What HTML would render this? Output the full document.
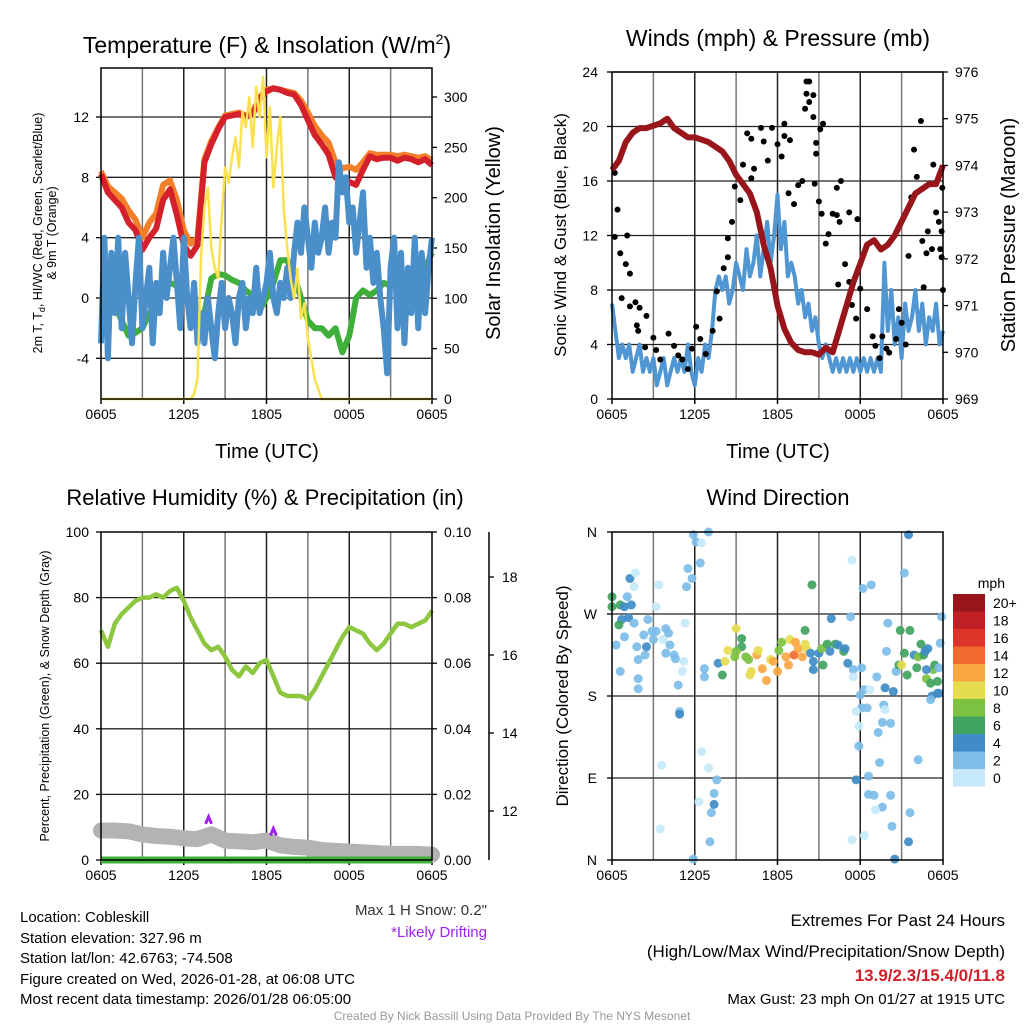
<!DOCTYPE html>
<html><head><meta charset="utf-8">
<style>
body{margin:0;background:#fff;}
svg{display:block;font-family:"Liberation Sans",Arial,sans-serif;}
</style></head>
<body>
<svg id="c" width="1024" height="1024" viewBox="0 0 1024 1024">
<rect width="1024" height="1024" fill="#fff"/>
<g id="texts">
<text x="267" y="53" font-size="23" text-anchor="middle">Temperature (F) &amp; Insolation (W/m<tspan dy="-9" font-size="14">2</tspan><tspan dy="9">)</tspan></text>
<text x="778" y="46" font-size="23" text-anchor="middle">Winds (mph) &amp; Pressure (mb)</text>
<text x="265" y="505" font-size="22" text-anchor="middle">Relative Humidity (%) &amp; Precipitation (in)</text>
<text x="778" y="505" font-size="22" text-anchor="middle">Wind Direction</text>
<g transform="translate(42,233) rotate(-90)" font-size="12.5" text-anchor="middle">
<text x="0" y="0">2m T, T<tspan font-size="9" dy="3">d</tspan><tspan dy="-3">, HI/WC (Red, Green, Scarlet/Blue)</tspan></text>
<text x="0" y="14">&amp; 9m T (Orange)</text></g>
<text transform="translate(500,233) rotate(-90)" font-size="20" text-anchor="middle">Solar Insolation (Yellow)</text>
<text x="267" y="458" font-size="20" text-anchor="middle">Time (UTC)</text>
<text x="778" y="458" font-size="20" text-anchor="middle">Time (UTC)</text>
<text transform="translate(566,235) rotate(-90)" font-size="17" text-anchor="middle">Sonic Wind &amp; Gust (Blue, Black)</text>
<text transform="translate(1015,235) rotate(-90)" font-size="20" text-anchor="middle">Station Pressure (Maroon)</text>
<text transform="translate(49,696) rotate(-90)" font-size="12.5" text-anchor="middle">Percent, Precipitation (Green), &amp; Snow Depth (Gray)</text>
<text transform="translate(568,696) rotate(-90)" font-size="17" text-anchor="middle">Direction (Colored By Speed)</text>
<text x="1005" y="588" font-size="14" text-anchor="end">mph</text>
<g font-size="15">
<text x="20" y="922">Location: Cobleskill</text>
<text x="20" y="943">Station elevation: 327.96 m</text>
<text x="20" y="963">Station lat/lon: 42.6763; -74.508</text>
<text x="20" y="984">Figure created on Wed, 2026-01-28, at 06:08 UTC</text>
<text x="20" y="1004">Most recent data timestamp: 2026/01/28 06:05:00</text>
</g>
<text x="487" y="915" font-size="15" text-anchor="end" fill="#333">Max 1 H Snow: 0.2"</text>
<text x="487" y="937" font-size="15" text-anchor="end" fill="#a020f0">*Likely Drifting</text>
<g text-anchor="end">
<text x="1005" y="926" font-size="17">Extremes For Past 24 Hours</text>
<text x="1005" y="957" font-size="17">(High/Low/Max Wind/Precipitation/Snow Depth)</text>
<text x="1005" y="981" font-size="17" font-weight="bold" fill="#d0202a">13.9/2.3/15.4/0/11.8</text>
<text x="1005" y="1004" font-size="15">Max Gust: 23 mph On 01/27 at 1915 UTC</text>
</g>
<text x="512" y="1020" font-size="12" text-anchor="middle" fill="#999">Created By Nick Bassill Using Data Provided By The NYS Mesonet</text>
</g>
</svg>
<script>
// ---------- data ----------
const timeTicks = ["0605","1205","1805","0005","0605"];
const tempTicks = [-4,0,4,8,12];
const solarTicks = [0,50,100,150,200,250,300];
const windTicks = [0,4,8,12,16,20,24];
const pressTicks = [969,970,971,972,973,974,975,976];
const rhTicks = [0,20,40,60,80,100];
const precipTicks = ["0.00","0.02","0.04","0.06","0.08","0.10"];
const snowTicks = [12,14,16,18];
const dirTicks = ["N","E","S","W","N"];
const speedBins = ["0","2","4","6","8","10","12","14","16","18","20+"];
const speedColors = ["#c6e9fa","#7dbde8","#3f8cc8","#41a360","#7dc142","#e6dc50","#f9a742","#f06a2e","#dd3328","#c12026","#98161b"];

const airTemp = [8.2,7,6.5,6,5,4.5,3.2,4,4.6,6.5,7.2,5.5,3.5,2.8,3.5,9,10.2,11.2,12,12.1,12.2,12,12.2,13.2,13.7,13.9,13.8,13.6,13.5,12.8,11.8,10.8,10.2,9.5,8,7.6,7.7,7.5,8.5,9.4,9.2,9.3,9.3,9.1,9.3,9.2,9.0,9.2,8.8];
const temp9m = [8.4,7.4,7,6.6,5.8,5.2,4,5,5.6,7.5,7.8,6.5,4.5,3.6,4,9.2,10.4,11.3,12.1,12.2,12.3,12.1,12.3,13.3,13.8,13.9,13.8,13.7,13.6,13.1,12.3,11.4,10.8,10.3,9,8.6,8.7,8.5,9,9.6,9.5,9.5,9.5,9.4,9.5,9.4,9.3,9.4,9.1];
const dewPoint = [-1.5,-1,-0.5,-1.5,-2.5,-2.3,-2,-1,-0.5,0.5,1,0.8,0.5,-0.5,-1.5,-1,1.3,1.6,1.5,1.2,1,0.5,0.2,-0.8,0,1,2.5,2.5,1.5,0,-1.5,-2,-2,-2.5,-2,-3.6,-2.5,0,0.5,0.2,0.5,1,0.8,1.2,1.5,1,2,2,3];
const windChill = [-3,4,-4,3,-1,4,-2,3,0,-3,1,4,-2,0,2,-3,1,-1,3,0,2,4,1,-2,4,0,-2,1,-3,-1,-3,0,-2,-4,-1,1,-2,0,-1,-3,0,1,-2,0,-1,2,-1,0,1,3,0,-1,1,0,2,0,3,5,3,6,4,2,5,3,4,6,3,5,4,9,7,8,5,6,3,5,7,2,4,1,3,0,-2,-5,2,4,-2,3,-3,2,-1,4,-2,3,-1,2,4];
const solarHours = [0,6.5,6.75,7,7.25,7.5,7.75,8,8.25,8.5,8.75,9,9.25,9.5,9.75,10,10.25,10.5,10.75,11,11.25,11.5,11.75,12,12.25,12.5,12.75,13,13.25,13.5,13.75,14,14.25,14.5,14.75,15,15.5,16,24];
const solarValues = [0,0,5,20,140,190,210,150,130,120,180,230,215,240,260,230,285,270,300,250,310,280,320,240,290,210,250,280,190,150,120,100,130,80,95,60,20,0,0];

const windSpeed = [7,5,3,4,3,4,2,3,4,2,3,2,3,1,2,3,1,2,3,2,3,2,4,2,1,3,2,4,3,5,8,9,8,9,7,8,10,9,8,11,9,10,12,9,11,13,10,12,15,11,13,9,10,9,7,8,6,7,5,6,4,3,4,3,2,3,2,3,2,3,2,3,2,3,2,3,2,3,2,10,5,8,4,6,3,7,5,6,8,5,7,4,6,5,7,4,5];
const pressure = [973.9,974.1,974.5,974.7,974.8,974.8,974.85,974.9,975.0,974.8,974.7,974.6,974.6,974.55,974.5,974.4,974.3,974.1,973.8,973.6,973.4,973.0,972.3,971.8,971.0,970.5,970.2,970.05,970.0,970.0,969.95,970.1,970.0,970.5,971.0,971.5,971.9,972.3,972.4,972.2,972.3,972.5,972.8,973.1,973.4,973.5,973.6,973.6,974.0];
const gustHours = [0.2,0.4,0.2,0.6,1.1,1.0,1.3,0.7,1.3,1.7,1.8,1.9,2.0,2.4,2.5,3.0,3.2,3.5,4.1,4.5,4.8,5.1,5.5,5.8,6.1,6.4,6.8,7.3,7.6,7.8,8.1,8.4,8.4,8.7,8.9,9.3,9.5,9.8,10.1,10.1,10.3,10.8,11.0,11.3,11.6,12.0,12.3,12.5,12.5,12.9,12.8,13.2,13.5,13.8,14.0,14.1,14.3,14.1,14.3,14.6,14.6,14.8,14.8,15.1,15.3,14.7,15.0,15.2,15.5,15.7,16.0,16.3,16.3,16.6,16.5,16.9,17.2,17.8,16.4,17.2,17.8,18.0,17.4,17.7,18.5,18.9,19.1,19.4,19.6,19.9,20.1,20.6,20.8,21.0,21.3,21.5,21.7,21.9,22.1,22.4,22.5,22.8,22.6,22.9,23.2,23.3,23.5,23.7,23.8,23.9,23.95,23.9,24];
const gustValues = [16.6,13.9,11.9,10.7,12,9.9,9.2,7.4,6.8,7.1,5.4,5.0,6.7,3.8,6.1,4.5,3.6,2.9,4.8,3.9,3.2,2.9,2.2,3.7,5.3,4.4,3.3,5.0,7.9,5.9,9.6,10.4,11.8,13.0,15.6,14.6,17.2,19.5,19.1,16.2,16.9,19.9,18.9,17.5,19.9,18.7,17.8,20.2,19.3,19.0,15.1,14.3,15.7,16.0,21.3,23.3,23.3,22.4,21.8,22.3,20.7,18.8,18.0,19.8,20.2,15.8,14.5,13.6,11.4,12.1,13.6,13.5,15.5,16.0,13.0,9.9,13.7,13.2,8.4,8.6,9.3,8.1,6.9,5.9,6.6,4.6,3.9,3.0,4.6,3.7,3.4,4.4,6.6,5.6,4.0,10.5,14.8,18.3,16.3,20.4,11.6,10.7,8.2,12.3,11.0,17.2,13.7,13.0,11.0,12.3,15.5,10.4,8.0];

const relHumidity = [70,65,72,75,77,79,80,80,81,80,82,83,79,74,70,66,64,65,62,58,56,59,57,60,61,56,51,50,50,50,49,52,56,60,64,68,71,70,69,66,64,66,69,72,72,71,72,73,76];
const precip = [0,0,0,0,0,0,0,0,0,0,0,0,0,0,0,0,0,0,0,0,0,0,0,0,0];
const snowDepth = [11.5,11.5,11.48,11.4,11.36,11.34,11.3,11.28,11.4,11.24,11.22,11.2,11.24,11.12,11.08,11.06,11.0,10.98,10.96,10.94,10.92,10.9,10.9,10.9,10.88];
const driftHours = [7.8,12.5];
const driftDepth = [11.8,11.5];

const dirHours = [0,0,0.6,0.9,1.4,0.7,1.2,0.5,1.3,1.7,1.6,1.1,0.3,0.6,0.9,1.6,1.8,1.9,1.9,2.3,2.6,2.5,2.4,1.9,2.9,3.0,3.2,3.4,3.2,3.7,3.9,4.1,3.9,4.2,4.5,4.6,4.8,5.1,5.2,5.3,5.4,5.5,5.8,5.9,6.1,6.4,7.0,6.5,4.9,4.9,3.6,3.5,5.9,6.5,7.0,7.6,7.4,7.4,7.2,6.3,7.1,6.7,6.7,7.7,8.0,8.2,8.4,9.0,9.4,9.4,9.0,8.9,9.7,9.9,10.1,10.0,10.5,10.6,10.9,11.2,11.5,11.7,12.0,12.1,12.3,12.6,12.8,12.9,13.2,13.3,13.5,13.8,14.0,14.1,14.0,14.5,14.4,14.6,14.6,15.0,15.2,15.3,15.6,15.8,15.9,16.2,16.4,16.8,16.9,17.1,17.3,17.5,17.4,17.5,18.1,18.2,18.3,18.7,18.8,18.0,18.1,17.7,18.5,17.9,17.9,17.7,18.6,18.6,19.0,19.6,19.1,18.3,17.4,19.2,19.8,20.4,19.7,19.8,19.6,20.2,19.3,19.4,20.2,20.3,20.5,21.5,21.6,22.2,20.0,19.9,20.6,20.9,20.8,21.0,21.2,21.4,21.6,21.9,22.1,22.2,22.4,22.6,22.7,22.8,22.9,23.1,23.3,23.4,23.6,22.8,23.2,23.6,23.7,23.1,23.8,23.9,23.7,21.2,21.5];
const dirDegrees = [289,278,280,278,280,264,266,258,309,315,300,289,236,207,245,260,234,199,188,247,264,234,225,220,251,242,251,302,278,242,254,249,227,236,225,221,192,207,218,260,300,320,309,357,349,326,360,348,163,160,104,34,1,119,101,88,73,61,52,64,20,210,201,216,203,218,230,254,243,234,229,223,223,220,207,203,225,230,210,197,220,218,207,230,239,223,214,242,225,239,232,223,237,232,252,302,227,218,209,227,232,214,237,229,265,237,236,229,232,216,267,209,329,201,211,298,187,187,302,181,167,163,167,147,125,88,92,72,71,58,55,27,22,201,189,185,170,165,151,150,140,107,71,37,1,20,52,110,260,229,207,252,214,214,227,203,252,225,211,223,237,225,229,199,232,194,209,214,196,209,180,183,183,176,238,267,211,315,357];
const dirSpeeds = [6,6,6,4,4,4,4,6,4,1,1,3,3,3,3,3,3,3,3,3,3,4,3,3,3,3,3,1,1,1,3,3,3,3,3,3,3,1,1,1,3,3,3,3,3,3,3,1,3,4,1,1,3,1,1,3,3,4,3,1,3,3,3,4,6,10,10,10,6,6,8,8,8,8,10,10,12,10,12,12,10,12,12,8,8,12,12,10,14,12,12,12,10,10,6,6,4,4,4,4,8,6,6,4,4,6,4,6,4,4,3,3,1,1,3,3,3,1,3,3,3,1,3,1,3,4,3,3,3,3,1,1,1,3,4,4,3,1,3,3,3,3,3,3,4,4,3,3,3,3,3,6,6,10,6,6,6,4,6,8,6,6,4,8,4,6,8,6,6,4,4,4,4,3,3,3,3,3,4];

// ---------- helpers ----------
const NS="http://www.w3.org/2000/svg";
const svg=document.getElementById('c');
function mk(tag,attrs,parent){const e=document.createElementNS(NS,tag);for(const k in attrs)e.setAttribute(k,attrs[k]);(parent||svg).appendChild(e);return e;}
function linScale(d0,d1,r0,r1){return v=>r0+(v-d0)*(r1-r0)/(d1-d0);}
function pathFrom(xs,ys,fx,fy){return xs.map((x,i)=>(i?'L':'M')+fx(x).toFixed(1)+','+fy(ys[i]).toFixed(1)).join(' ');}
function idxHours(arr){return arr.map((_,i)=>i*24/(arr.length-1));}

function frame(x0,y0,x1,y1,name){
  const g=mk('g',{});
  
  
  const fx=linScale(0,24,x0,x1);
  for(let h=3;h<24;h+=3){const l=mk('line',{x1:fx(h),x2:fx(h),y1:y0,y2:y1,stroke:h%6?'#777':'#222','stroke-width':1.5},g);
    
    }
  timeTicks.forEach((t,i)=>{const x=fx(i*6);
    mk('line',{x1:x,x2:x,y1:y1,y2:y1+5,stroke:'#000','stroke-width':1.5},g);
    const tx=mk('text',{x:x,y:y1+20,'font-size':14,'text-anchor':'middle'},g);tx.textContent=t;
    
    });
  return {g,fx};
}
function hgrid(g,ys,x0,x1){ys.forEach(y=>mk('line',{x1:x0,x2:x1,y1:y,y2:y,stroke:'#222','stroke-width':1.3},g));}
function border(g,x0,y0,x1,y1){mk('rect',{x:x0,y:y0,width:x1-x0,height:y1-y0,fill:'none',stroke:'#000','stroke-width':1.5},g);}
function ylabels(g,vals,fy,x,anchor,tickDir,xa){vals.forEach(v=>{const y=fy(+v);
  mk('line',{x1:xa,x2:xa+tickDir*5,y1:y,y2:y,stroke:'#000','stroke-width':1.3},g);
  const t=mk('text',{x:x,y:y+5,'font-size':14,'text-anchor':anchor},g);t.textContent=v;
  
  });}

// ---------- panel 1 ----------
(function(){
  const X0=101,Y0=68,X1=432,Y1=399;
  const {g,fx}=frame(X0,Y0,X1,Y1,'temperature-panel');
  const fy=linScale(0,12,298,117);
  const fs=linScale(0,300,399,97);
  hgrid(g,tempTicks.map(fy),X0,X1);
  ylabels(g,tempTicks,fy,89,'end',-1,X0);
  ylabels(g,solarTicks,fs,444,'start',1,X1);
  const d=mk('path',{d:pathFrom(idxHours(temp9m),temp9m,fx,fy),fill:'none',stroke:'#f47f2a','stroke-width':6,'stroke-linejoin':'round'},g);
  
  
  const r=mk('path',{d:pathFrom(idxHours(airTemp),airTemp,fx,fy),fill:'none',stroke:'#d4202a','stroke-width':6,'stroke-linejoin':'round'},g);
  
  
  const gr=mk('path',{d:pathFrom(idxHours(dewPoint),dewPoint,fx,fy),fill:'none',stroke:'#3fae3a','stroke-width':6,'stroke-linejoin':'round'},g);
  
  
  const b=mk('path',{d:pathFrom(idxHours(windChill),windChill,fx,fy),fill:'none',stroke:'#4a8fc9','stroke-width':6,'stroke-linejoin':'round'},g);
  
  
  const y=mk('path',{d:pathFrom(solarHours,solarValues,fx,fs),fill:'none',stroke:'#fbe14f','stroke-width':2.5,'stroke-linejoin':'round'},g);
  
  
  border(g,X0,Y0,X1,Y1);
})();

// ---------- panel 2 ----------
(function(){
  const X0=612,Y0=72,X1=943,Y1=399;
  const {g,fx}=frame(X0,Y0,X1,Y1,'winds-panel');
  const fy=linScale(0,24,399,72);
  const fp=linScale(969,976,399,72);
  hgrid(g,windTicks.map(fy),X0,X1);
  ylabels(g,windTicks,fy,598,'end',-1,X0);
  ylabels(g,pressTicks,fp,955,'start',1,X1);
  const b=mk('path',{d:pathFrom(idxHours(windSpeed),windSpeed,fx,fy),fill:'none',stroke:'#4f96d2','stroke-width':4,'stroke-linejoin':'round'},g);
  
  
  gustHours.forEach((h,i)=>{const c=mk('circle',{cx:fx(h),cy:fy(gustValues[i]),r:3,fill:'#000'},g);
    
    });
  const p=mk('path',{d:pathFrom(idxHours(pressure),pressure,fx,fp),fill:'none',stroke:'#98161b','stroke-width':6,'stroke-linejoin':'round'},g);
  
  
  border(g,X0,Y0,X1,Y1);
})();

// ---------- panel 3 ----------
(function(){
  const X0=101,Y0=532,X1=432,Y1=860;
  const {g,fx}=frame(X0,Y0,X1,Y1,'humidity-panel');
  const fy=linScale(0,100,860,532);
  const fq=linScale(0,0.1,860,532);
  const fsn=linScale(12,18,811,577);
  hgrid(g,rhTicks.slice(1,5).map(fy),X0,X1);
  ylabels(g,rhTicks,fy,89,'end',-1,X0);
  ylabels(g,precipTicks,fq,444,'start',1,X1);
  mk('line',{x1:489,x2:489,y1:532,y2:860,stroke:'#000','stroke-width':1.5},g);
  ylabels(g,snowTicks,fsn,502,'start',1,489);
  const s=mk('path',{d:pathFrom(idxHours(snowDepth),snowDepth,fx,fsn),fill:'none',stroke:'#b3b3b3','stroke-width':16,'stroke-linejoin':'round','stroke-linecap':'round'},g);
  
  
  driftHours.forEach((h,i)=>{const x=fx(h),y=fsn(driftDepth[i]);
    const m=mk('path',{d:`M${x-3},${y+5} L${x},${y-2} L${x+3},${y+5}`,fill:'none',stroke:'#a020f0','stroke-width':3},g);
    
    });
  const q=mk('path',{d:pathFrom(idxHours(precip),precip,fx,fq),fill:'none',stroke:'#3fae3a','stroke-width':7},g);
  
  
  const r=mk('path',{d:pathFrom(idxHours(relHumidity),relHumidity,fx,fy),fill:'none',stroke:'#8dc63f','stroke-width':4.5,'stroke-linejoin':'round'},g);
  
  
  border(g,X0,Y0,X1,Y1);
})();

// ---------- panel 4 ----------
(function(){
  const X0=612,Y0=532,X1=943,Y1=860;
  const {g,fx}=frame(X0,Y0,X1,Y1,'direction-panel');
  const fy=linScale(0,360,860,532);
  hgrid(g,[90,180,270].map(fy),X0,X1);
  dirTicks.forEach((t,i)=>{const y=fy(i*90);
    mk('line',{x1:X0,x2:X0-5,y1:y,y2:y,stroke:'#000','stroke-width':1.3},g);
    const tx=mk('text',{x:597,y:y+5,'font-size':14,'text-anchor':'end'},g);tx.textContent=t;
    
    });
  dirHours.forEach((h,i)=>{const bin=Math.min(10,Math.floor(dirSpeeds[i]/2));
    const c=mk('circle',{cx:fx(h),cy:fy(dirDegrees[i]),r:4.5,fill:speedColors[bin],'fill-opacity':0.92},g);
    
    });
  border(g,X0,Y0,X1,Y1);
  const cb=mk('g',{});
  
  
  const n=speedBins.length,top=594,hgt=17.5;
  speedBins.forEach((lab,i)=>{const k=n-1-i;
    const r=mk('rect',{x:953,y:top+i*hgt,width:32,height:hgt,fill:speedColors[k]},cb);
    
    
    const t=mk('text',{x:993,y:top+i*hgt+hgt/2+5,'font-size':14},cb);t.textContent=speedBins[k];
    
    });
})();
</script>
</body></html>
